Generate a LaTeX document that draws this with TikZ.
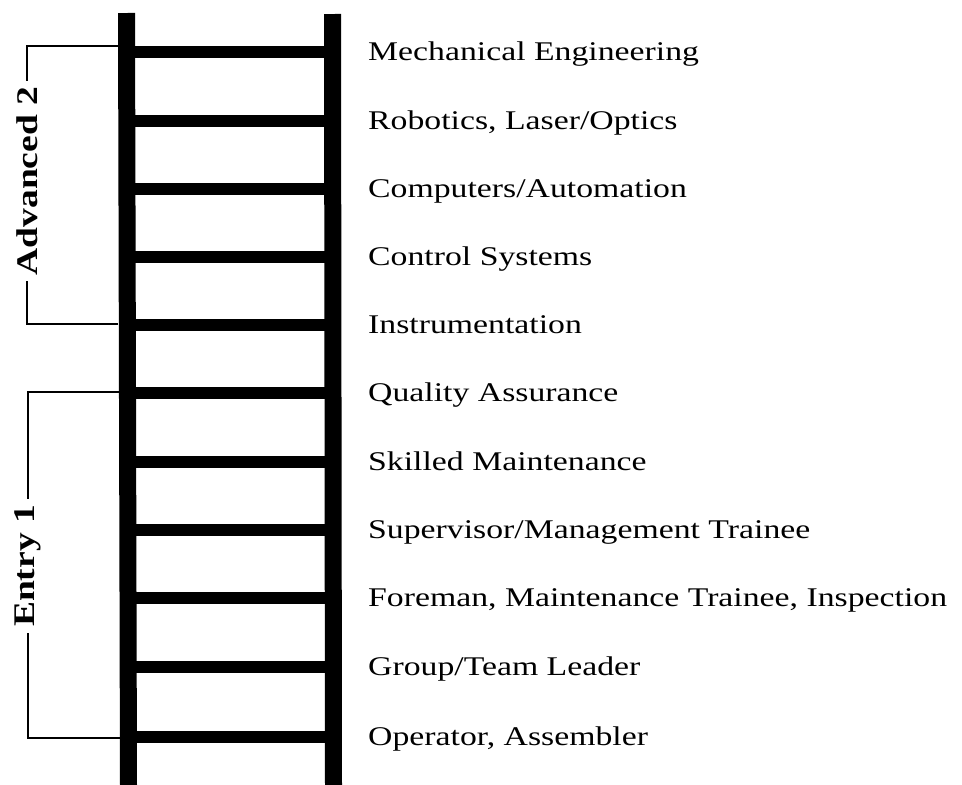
\documentclass[tikz,border=0pt]{standalone}
\usepackage{fontspec}
\setmainfont[FakeStretch=1.25]{Liberation Serif}
\begin{document}
\begin{tikzpicture}[x=1pt,y=1pt,
  rail/.style={line width=17pt,line cap=butt},
  rung/.style={line width=12pt,line cap=butt},
  bracket/.style={line width=1.4pt},
  item/.style={anchor=base west,inner sep=0pt,font=\fontsize{27}{31}\selectfont},
  lab/.style={rotate=90,inner sep=0pt,outer sep=6pt,font=\fontsize{30}{36}\selectfont\bfseries}]
\useasboundingbox (0,0) rectangle (962,-785);
% rails
\coordinate (lt) at (126.5,-13);
\coordinate (lb) at (128.5,-785);
\coordinate (rt) at (332.5,-14);
\coordinate (rb) at (333.5,-785);
\draw[rail] (lt) -- (lb);
\draw[rail] (rt) -- (rb);
% rungs and texts
\foreach \y/\t [count=\i] in {52/{Mechanical Engineering},
  121/{Robotics, Laser/Optics},
  189/{Computers/Automation},
  257/{Control Systems},
  325/{Instrumentation},
  393/{Quality Assurance},
  462/{Skilled Maintenance},
  530/{Supervisor/Management Trainee},
  598/{Foreman, Maintenance Trainee, Inspection},
  667/{Group/Team Leader},
  737/{Operator, Assembler}}{
  \coordinate (rl\i) at (127,-\y);
  \coordinate (rr\i) at (333,-\y);
  \draw[rung] (rl\i) -- (rr\i);
  \node[item] (t\i) at (368,-\y-8.5) {\t};
}
% brackets
\coordinate (a1) at (118,-46);
\coordinate (a2) at (118,-324);
\node[lab] (adv) at (27,-181) {Advanced 2};
\draw[bracket] (a1) -| (adv.east);
\draw[bracket] (a2) -| (adv.west);
\coordinate (e1) at (119,-392);
\coordinate (e2) at (120,-738);
\node[lab] (ent) at (28,-566) {Entry 1};
\draw[bracket] (e1) -| (ent.east);
\draw[bracket] (e2) -| (ent.west);
\end{tikzpicture}
\end{document}
